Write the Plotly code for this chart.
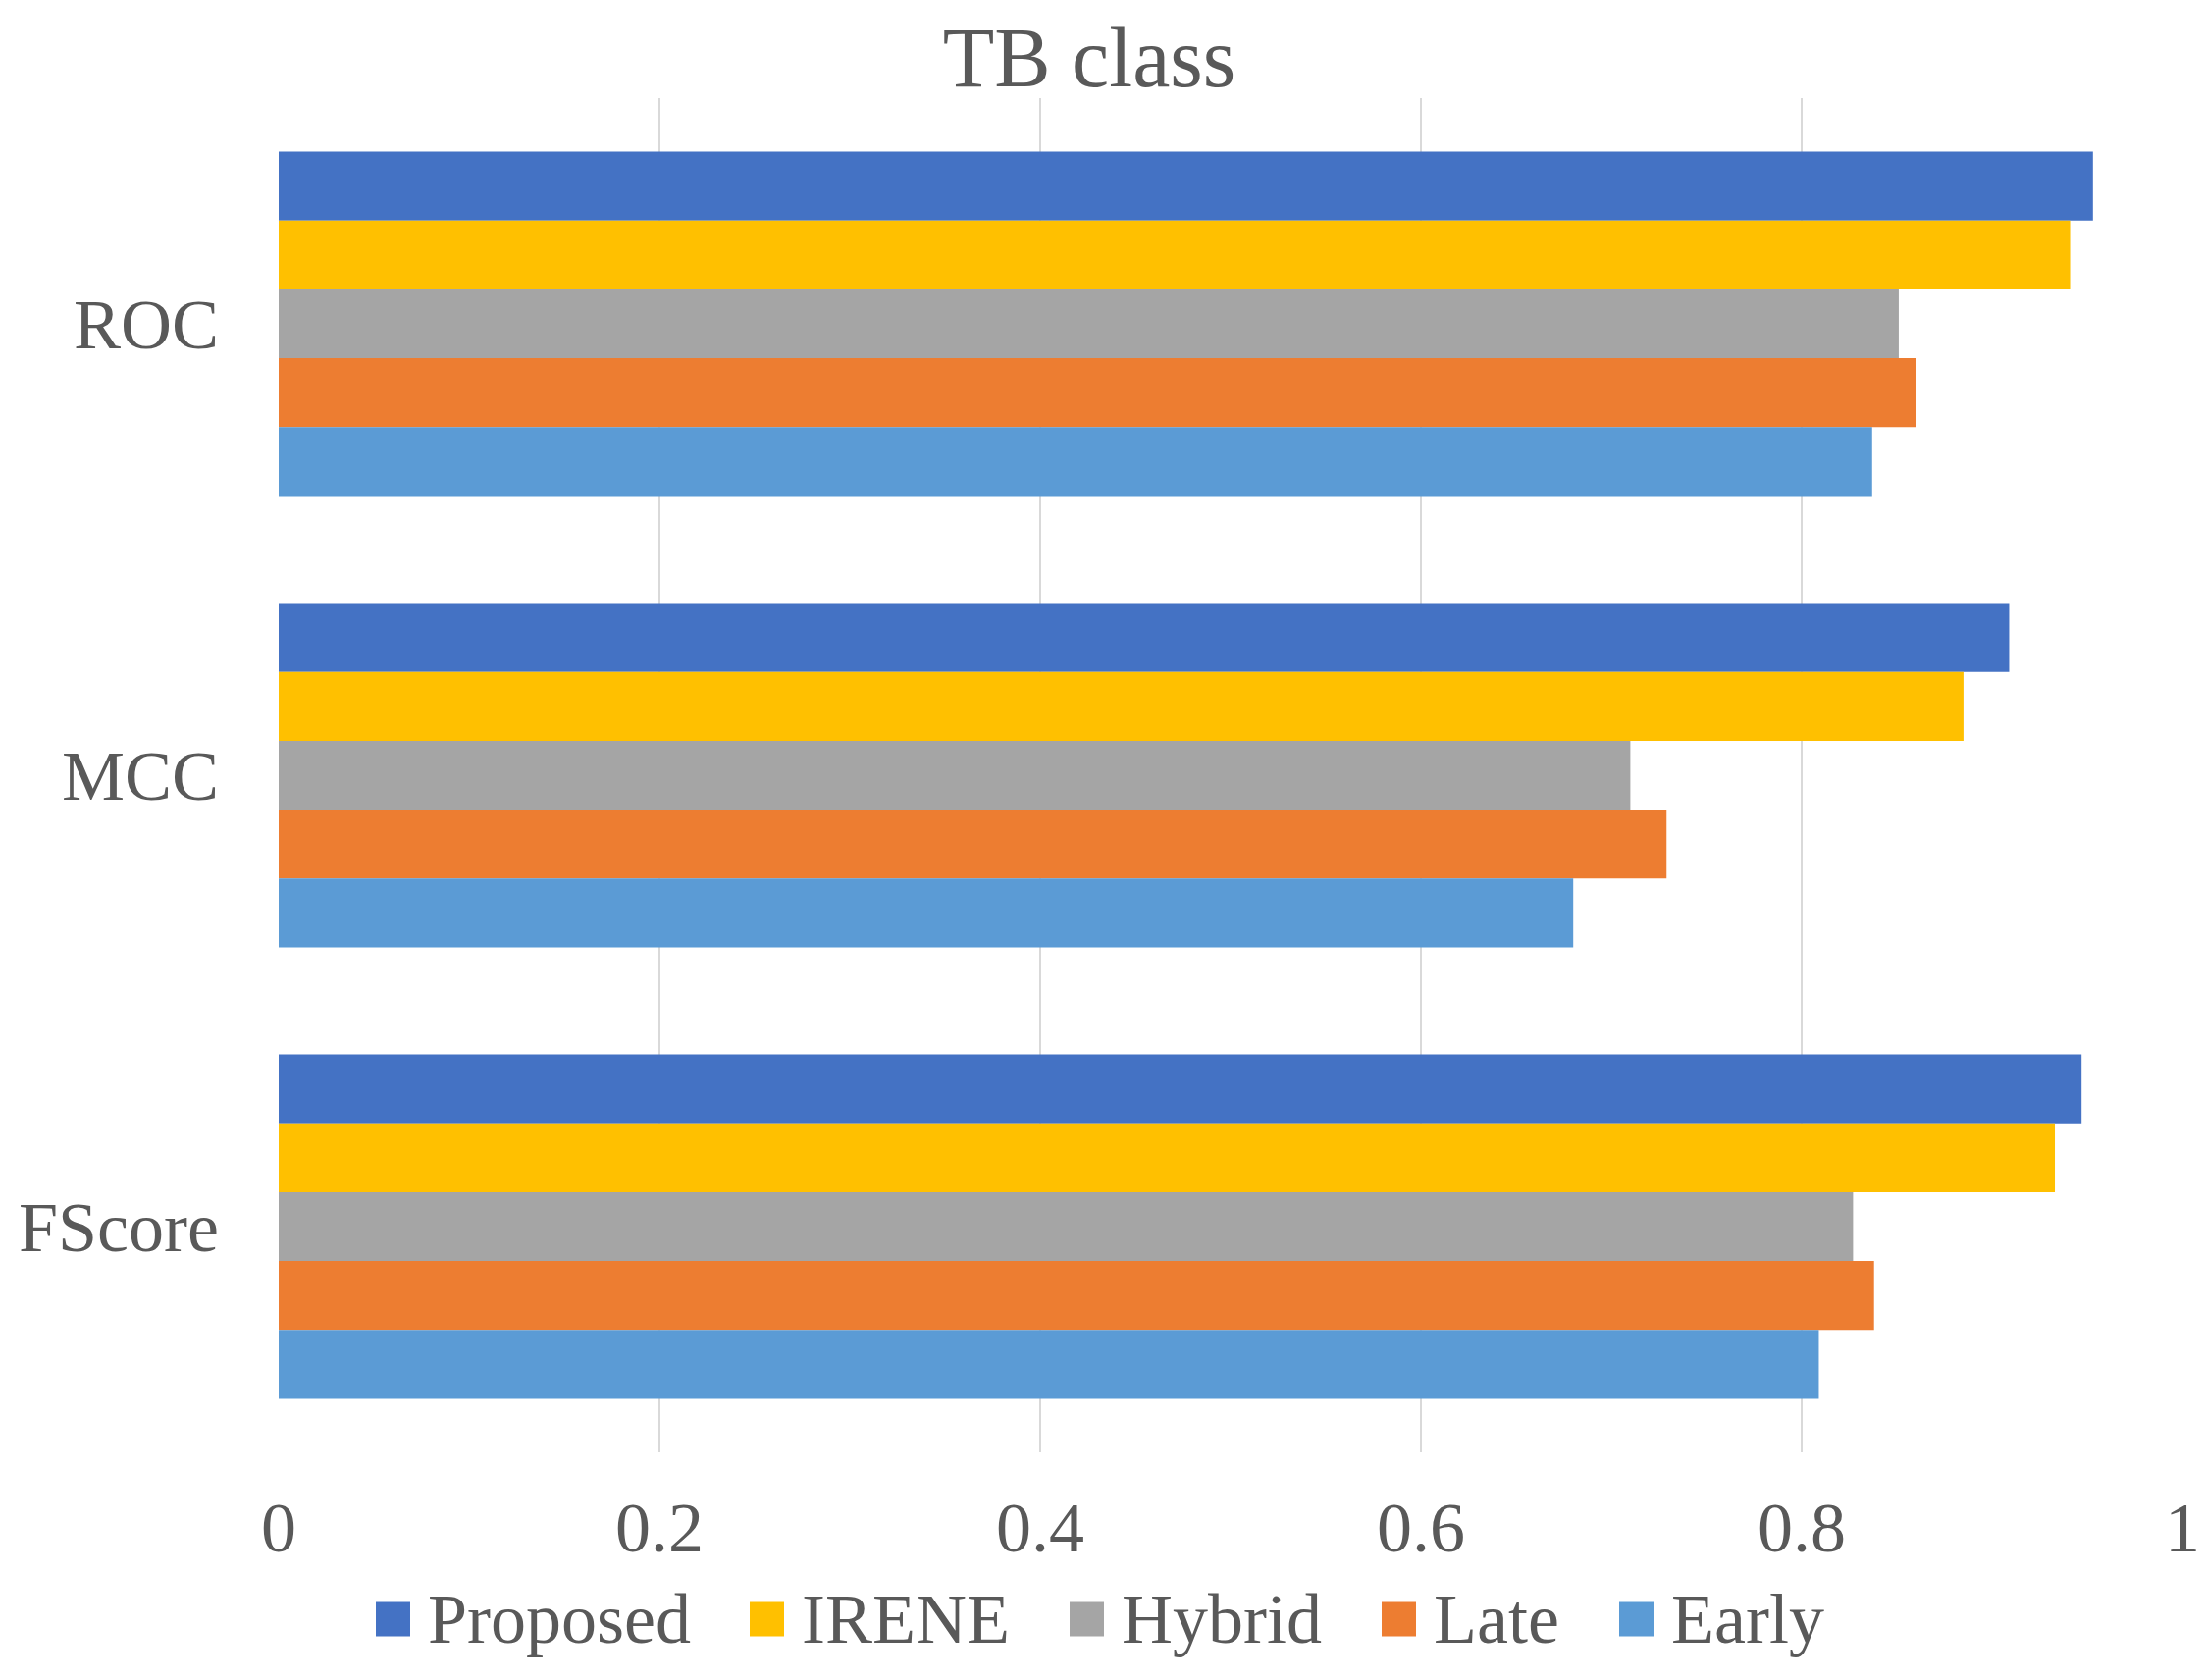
import plotly.graph_objects as go

# metrics shown on the y axis, top to bottom
metrics = ['ROC', 'MCC', 'FScore']

proposed = [0.953, 0.909, 0.947]
irene = [0.941, 0.885, 0.933]
hybrid = [0.851, 0.710, 0.827]
late = [0.860, 0.729, 0.838]
early = [0.837, 0.680, 0.809]

series = [('Proposed', proposed, '#4472C4'),
          ('IRENE', irene, '#FFC000'),
          ('Hybrid', hybrid, '#A5A5A5'),
          ('Late', late, '#ED7D31'),
          ('Early', early, '#5B9BD5')]

txt = '#595959'
font_name = 'Liberation Serif'

# plot area in page pixels (the page body adds an 8px offset)
W, H = 2247, 1712
off = 8
plot_l, plot_r, plot_t, plot_b = 284, 2224, 100, 1480


def px_x(px):
    return (px - plot_l) / (plot_r - plot_l)


def px_y(py):
    return (plot_b - py) / (plot_b - plot_t)


fig = go.Figure()
for name, vals, col in series:
    fig.add_trace(go.Bar(x=vals,
                         y=metrics,
                         name=name,
                         orientation='h',
                         marker=dict(color=col, line=dict(width=0)),
                         showlegend=False,
                         ))

# legend drawn by hand so the swatches can be as big as in the original
legend_left = [383, 764, 1090, 1408, 1650]
sw = 35
leg_y = 1650
shapes = []
annotations = []
for (name, vals, col), lx in zip(series, legend_left):
    shapes.append(dict(type='rect', xref='paper', yref='paper',
                       x0=px_x(lx), x1=px_x(lx + sw),
                       y0=px_y(leg_y - sw / 2), y1=px_y(leg_y + sw / 2),
                       fillcolor=col, line=dict(width=0)))
    annotations.append(dict(text=name, xref='paper', yref='paper',
                            x=px_x(lx + 51), y=px_y(leg_y),
                            xanchor='left', yanchor='middle',
                            showarrow=False,
                            font=dict(size=72, color=txt, family=font_name)))

fig.update_layout(width=W,
                  height=H,
                  autosize=False,
                  barmode='group',
                  bargap=0.237,
                  bargroupgap=0,
                  plot_bgcolor='white',
                  paper_bgcolor='white',
                  font=dict(family=font_name, color=txt, size=72),
                  title=dict(text='TB class',
                             x=(1110 - off) / W, xref='container',
                             y=1 - 50 / H, yref='container',
                             xanchor='center', yanchor='middle',
                             font=dict(size=86, color=txt, family=font_name)),
                  margin=dict(l=plot_l - off, r=W - plot_r + off,
                              t=plot_t - off, b=H - plot_b + off),
                  showlegend=False,
                  shapes=shapes,
                  annotations=annotations,
                  )
fig.update_xaxes(range=[0, 1],
                 dtick=0.2,
                 tickformat='~g',
                 showgrid=True,
                 gridcolor='#D9D9D9',
                 gridwidth=2,
                 zeroline=False,
                 showline=False,
                 ticks='',
                 ticklabelstandoff=28,
                 tickfont=dict(size=72, color=txt, family=font_name),
                 )
fig.update_yaxes(autorange='reversed',
                 showgrid=False,
                 showline=False,
                 ticks='',
                 ticklabelstandoff=60,
                 tickfont=dict(size=72, color=txt, family=font_name),
                 )

fig.write_html('out.html')
